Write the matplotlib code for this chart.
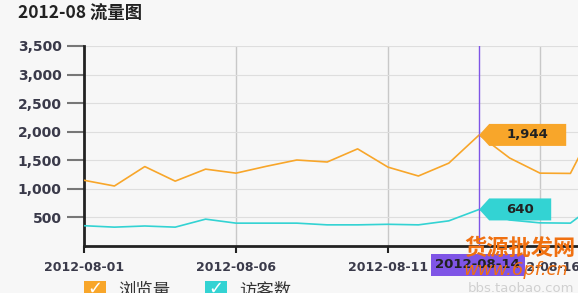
import matplotlib as mpl
mpl.use('Agg')
import matplotlib.pyplot as plt
from matplotlib.ticker import FuncFormatter
from matplotlib.patches import Polygon, Rectangle
from matplotlib.transforms import ScaledTranslation

plt.rcParams['font.family'] = ['Noto Sans CJK SC', 'DejaVu Sans']

# daily data, 2012-08-01 .. 2012-08-18
dias = list(range(1, 19))
pageviews = [1150, 1050, 1390, 1135, 1345, 1275, 1395, 1505, 1470, 1700,
             1380, 1225, 1450, 1944, 1540, 1275, 1270, 2300]
visitors = [355, 330, 350, 330, 470, 400, 400, 400, 370, 370,
            380, 370, 440, 640, 455, 405, 400, 800]
tick_dias = [1, 6, 11, 16]
tick_labels = ['2012-08-01', '2012-08-06', '2012-08-11', '2012-08-16']
sel = 14

laranja = '#f8a62a'
ciano = '#33d3d3'
roxo = '#7f55e6'
bg = '#f7f7f7'

fig = plt.figure(figsize=(5.78, 2.93), dpi=100, facecolor=bg)
ax = fig.add_axes([84/578, 1 - 246/293, 1 - 84/578, 200/293])
ax.set_facecolor(bg)

ax.plot(dias, pageviews, color=laranja, lw=1.2, zorder=3)
ax.plot(dias, visitors, color=ciano, lw=1.2, zorder=3)

ax.set_xlim(1, 1 + 494/30.4)
ax.set_ylim(0, 3500)
ax.set_yticks([500, 1000, 1500, 2000, 2500, 3000, 3500])
ax.yaxis.set_major_formatter(FuncFormatter(lambda v, p: '{:,.0f}'.format(v)))
ax.set_xticks(tick_dias)
ax.set_xticklabels(tick_labels)

ax.grid(axis='y', color='#dedede', lw=0.8)
for d in tick_dias[1:]:
    ax.axvline(d, color='#c8c8c8', lw=1.0, zorder=1)

for s in ['top', 'right']:
    ax.spines[s].set_visible(False)
for s in ['left', 'bottom']:
    ax.spines[s].set_linewidth(2)
    ax.spines[s].set_color('#222222')

ax.tick_params(axis='y', length=12, width=1.5, color='#777777', pad=4,
               labelsize=10, labelcolor='#3a3a4a')
ax.tick_params(axis='x', length=5, width=1.5, color='#222222', pad=6,
               labelsize=9, labelcolor='#3a3a4a')
for t in ax.get_yticklabels() + ax.get_xticklabels():
    t.set_fontweight('bold')
    t.set_family('DejaVu Sans')


def balao(x, y, texto, cor, largura):
    # tooltip box with a small arrow pointing at the point (sizes in pixels)
    tr = fig.dpi_scale_trans + ScaledTranslation(x, y, ax.transData)
    pts = [(0, 0), (10, 11), (10 + largura, 11), (10 + largura, -11), (10, -11)]
    pts = [(a / 100, b / 100) for a, b in pts]
    ax.add_patch(Polygon(pts, closed=True, transform=tr, fc=cor, ec='none',
                         zorder=6, clip_on=False))
    ax.text((10 + largura / 2) / 100, 0, texto, transform=tr, ha='center',
            va='center', fontsize=9.5, fontweight='bold', color='#222222',
            family='DejaVu Sans', zorder=7, clip_on=False)


# selected day marker
ax.axvline(sel, color=roxo, lw=1.0, zorder=4)
i = dias.index(sel)
balao(sel, pageviews[i], '{:,}'.format(pageviews[i]), laranja, 77)
balao(sel, visitors[i], '{:,}'.format(visitors[i]), ciano, 62)
ax.text(sel - 0.05, -0.095, '2012-08-14', transform=ax.get_xaxis_transform(),
        ha='center', va='center', fontsize=9.5, fontweight='bold',
        family='DejaVu Sans', color='#222222', zorder=7, clip_on=False,
        bbox=dict(boxstyle='square,pad=0.35', fc=roxo, ec='none'))

# title
fig.text(18/578, 1 - 14/293, '2012-08 流量图', fontsize=12.5, fontweight='bold',
         color='#222222', va='center', ha='left')

# legend
for x0, cor, nome in [(84, laranja, '浏览量'), (205, ciano, '访客数')]:
    fig.patches.append(Rectangle((x0/578, 1 - 300/293), 22/578, 19/293,
                                 transform=fig.transFigure, fc=cor, ec='none'))
    fig.text((x0 + 11)/578, 1 - 289/293, '✓', fontsize=13, color='white',
             ha='center', va='center', family='DejaVu Sans')
    fig.text((x0 + 34)/578, 1 - 291/293, nome, fontsize=12.5, color='#333333',
             ha='left', va='center')

# watermark
fig.text(464/578, 1 - 248/293, '货源批发网', fontsize=16, color='#f07010',
         ha='left', va='center', fontweight='bold', zorder=10)
fig.text(463/578, 1 - 270/293, 'www.6pf.cn', fontsize=13, color='#f07010',
         ha='left', va='center', style='italic', family='DejaVu Sans', zorder=10)
fig.text(468/578, 1 - 288/293, 'bbs.taobao.com', fontsize=9.5, color='#d0d0d0',
         ha='left', va='center', family='DejaVu Sans', zorder=10)

fig.savefig('out.png', dpi=100, facecolor=bg)
